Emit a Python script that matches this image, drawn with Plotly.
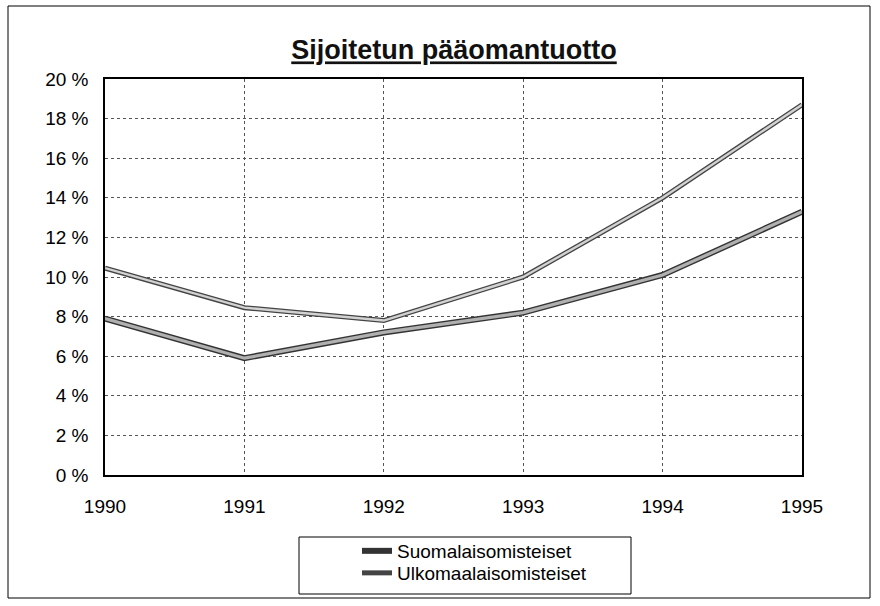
import plotly.graph_objects as go

years = [1990, 1991, 1992, 1993, 1994, 1995]
suomalais = [7.9, 5.9, 7.2, 8.2, 10.1, 13.3]
ulkomaalais = [10.45, 8.45, 7.8, 10.0, 14.0, 18.7]
series_names = ["Suomalaisomisteiset", "Ulkomaalaisomisteiset"]
y_ticks = [0, 2, 4, 6, 8, 10, 12, 14, 16, 18, 20]
y_tick_labels = [f"{v} %" for v in y_ticks]
title_text = "Sijoitetun pääomantuotto"

W, H = 880, 606
L, R, T, B = 105, 78, 79, 131
pw, ph = W - L - R, H - T - B

def px_x(x):
    return (x - L) / pw

def px_y(y):
    return (H - B - y) / ph

FONT = "Liberation Sans, Arial, sans-serif"

fig = go.Figure()
styles = [
    dict(outer="#333333", ow=6, inner="#b0b0b0", iw=3.2, legend="legend"),
    dict(outer="#444444", ow=5, inner="#d2d2d2", iw=2.4, legend="legend2"),
]
for name, vals, st in zip(series_names, [suomalais, ulkomaalais], styles):
    fig.add_trace(go.Scatter(x=years, y=vals, mode="lines", name=name,
                             line=dict(color=st["outer"], width=st["ow"]),
                             legend=st["legend"], showlegend=True))
    fig.add_trace(go.Scatter(x=years, y=vals, mode="lines", name=name,
                             line=dict(color=st["inner"], width=st["iw"]),
                             legend=st["legend"], showlegend=False, hoverinfo="skip"))

legend_common = dict(x=357 / W, xanchor="left", yanchor="middle",
                     xref="container", yref="container",
                     bgcolor="rgba(0,0,0,0)", borderwidth=0,
                     font=dict(family=FONT, size=19, color="black"),
                     itemwidth=30)

fig.update_layout(
    width=W, height=H,
    margin=dict(l=L, r=R, t=T, b=B, autoexpand=False),
    paper_bgcolor="white", plot_bgcolor="white",
    font=dict(family=FONT, color="black", size=19),
    title=dict(text="<u>" + title_text + "</u>", x=454 / W,
               xref="container", xanchor="center", y=1 - 50 / H, yanchor="middle",
               yref="container",
               font=dict(family=FONT, size=27, color="#111", weight="bold")),
    showlegend=True,
    legend=dict(y=1 - 551 / H, **legend_common),
    legend2=dict(y=1 - 573 / H, **legend_common),
    xaxis=dict(range=[1990, 1995], tickvals=years, ticktext=[str(y) for y in years],
               showgrid=True, gridcolor="#555", griddash="dot", gridwidth=1,
               showline=True, linecolor="black", linewidth=1.5, mirror=True,
               zeroline=False, ticks="", tickfont=dict(size=19),
               ticklabelstandoff=13, automargin=False),
    yaxis=dict(range=[0, 20], tickvals=y_ticks, ticktext=y_tick_labels,
               showgrid=True, gridcolor="#555", griddash="dot", gridwidth=1,
               showline=True, linecolor="black", linewidth=1.5, mirror=True,
               zeroline=False, ticks="", tickfont=dict(size=19),
               ticklabelstandoff=11, automargin=False),
    shapes=[
        dict(type="rect", xref="paper", yref="paper",
             x0=px_x(8), x1=px_x(870), y0=px_y(598), y1=px_y(6),
             line=dict(color="black", width=1)),
        dict(type="rect", xref="paper", yref="paper",
             x0=px_x(299), x1=px_x(631), y0=px_y(594), y1=px_y(537),
             line=dict(color="black", width=1)),
    ],
)

fig.write_html("out.html", config={"displayModeBar": False},
               post_script="document.body.style.margin='0';")
